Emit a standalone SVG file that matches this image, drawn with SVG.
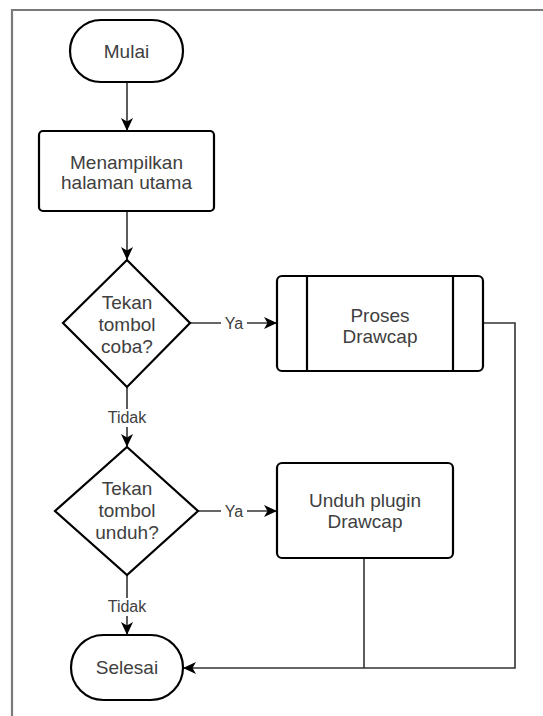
<svg xmlns="http://www.w3.org/2000/svg" width="543" height="716" viewBox="0 0 543 716">
<style>
.n{fill:#fff;stroke:#000;stroke-width:2.2}
.t{font-family:"Liberation Sans",Arial,sans-serif;font-size:19px;fill:#404040;text-anchor:middle}
.l{font-family:"Liberation Sans",Arial,sans-serif;font-size:16px;fill:#404040;text-anchor:middle}
.c{fill:none;stroke:#333;stroke-width:1.6}
.lb{fill:#fff}
</style>
<defs>
<marker id="ah" markerUnits="userSpaceOnUse" markerWidth="14" markerHeight="12" viewBox="0 0 14 12" refX="13" refY="6" orient="auto">
<path d="M0,0 L13,6 L0,12 L3.5,6 Z" fill="#000"/>
</marker>
</defs>
<rect width="543" height="716" fill="#fff"/>
<path d="M12,716 V10 H543" fill="none" stroke="#7a7a7a" stroke-width="2.2"/>
<g id="connectors">
<path class="c" d="M127,82 V131" marker-end="url(#ah)"/>
<path class="c" d="M127,211 V260" marker-end="url(#ah)"/>
<path class="c" d="M190,323 H277" marker-end="url(#ah)"/>
<path class="c" d="M127,387 V447" marker-end="url(#ah)"/>
<path class="c" d="M198,511 H277" marker-end="url(#ah)"/>
<path class="c" d="M127,575 V635" marker-end="url(#ah)"/>
<path class="c" d="M483,323 H515 V668 H183" marker-end="url(#ah)"/>
<path class="c" d="M364,558 V668"/>
<rect class="lb" x="221" y="315" width="26" height="17"/>
<text class="l" x="234" y="329">Ya</text>
<rect class="lb" x="221" y="503" width="26" height="17"/>
<text class="l" x="234" y="517">Ya</text>
<rect class="lb" x="105" y="409" width="44" height="18"/>
<text class="l" x="127" y="423">Tidak</text>
<rect class="lb" x="105" y="598" width="44" height="18"/>
<text class="l" x="127" y="612">Tidak</text>
</g>
<g id="mulai">
<rect class="n" x="70" y="20" width="113" height="62" rx="31"/>
<text class="t" x="126.5" y="58">Mulai</text>
</g>
<g id="menampilkan">
<rect class="n" x="39" y="131" width="175" height="80" rx="4"/>
<text class="t" x="126.5" y="169">Menampilkan</text>
<text class="t" x="126.5" y="189">halaman utama</text>
</g>
<g id="cek-coba">
<path class="n" d="M127,260 L190,323 L127,387 L63,323 Z"/>
<text class="t" x="127" y="309">Tekan</text>
<text class="t" x="127" y="331">tombol</text>
<text class="t" x="127" y="353">coba?</text>
</g>
<g id="proses-drawcap">
<rect class="n" x="277" y="276" width="206" height="95" rx="5"/>
<path class="n" d="M307,276 V371 M453,276 V371"/>
<text class="t" x="380" y="322">Proses</text>
<text class="t" x="380" y="343">Drawcap</text>
</g>
<g id="cek-unduh">
<path class="n" d="M127,447 L198,511 L127,575 L55,511 Z"/>
<text class="t" x="127" y="495">Tekan</text>
<text class="t" x="127" y="517">tombol</text>
<text class="t" x="127" y="539">unduh?</text>
</g>
<g id="unduh-plugin">
<rect class="n" x="277" y="463" width="176" height="95" rx="5"/>
<text class="t" x="365" y="507">Unduh plugin</text>
<text class="t" x="365" y="528">Drawcap</text>
</g>
<g id="selesai">
<rect class="n" x="71" y="635" width="112" height="65" rx="32.5"/>
<text class="t" x="127" y="674">Selesai</text>
</g>
</svg>
